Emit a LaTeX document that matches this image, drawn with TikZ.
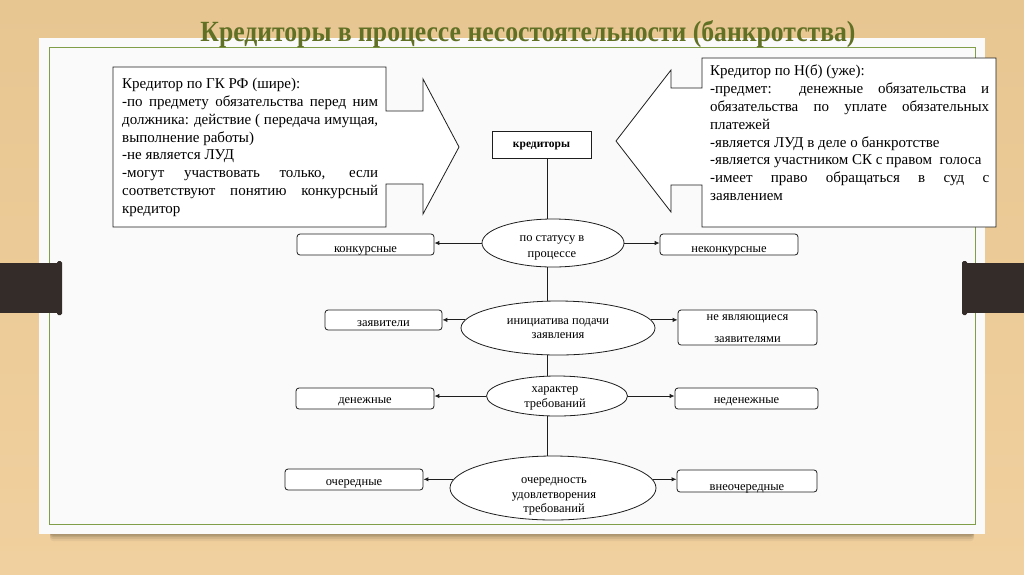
\documentclass[tikz,border=0pt]{standalone}
\usepackage{fontspec}
\setmainfont{Liberation Serif}
\usetikzlibrary{arrows.meta,calc,shapes.geometric}
\definecolor{woodtop}{RGB}{232,198,146}
\definecolor{woodbot}{RGB}{240,208,158}
\definecolor{panelw}{RGB}{250,250,250}
\definecolor{frameg}{RGB}{128,158,72}
\definecolor{titleg}{RGB}{96,112,36}
\definecolor{barc}{RGB}{52,44,40}
\definecolor{linec}{RGB}{30,30,30}
\newcommand{\bodyfnt}{\fontsize{15}{17.8}\selectfont}
\newcommand{\smallfnt}{\fontsize{12.5}{15.5}\selectfont}
\tikzset{
  outl/.style={draw=linec, line width=0.8pt},
  catbox/.style={outl, fill=white, rounded corners=3pt, inner sep=1pt, align=center, font=\smallfnt, text height=12pt, text depth=0pt},
  catell/.style={outl, fill=white, ellipse, inner sep=0pt},
  elbl/.style={anchor=base, inner sep=0pt, font=\smallfnt},
  arr/.style={draw=linec, line width=0.9pt, -{Latex[length=5pt,width=4.5pt]}},
  spine/.style={draw=linec, line width=0.8pt},
}
\begin{document}
\begin{tikzpicture}[x=1pt,y=-1pt]
\useasboundingbox (0,0) rectangle (1024,574);
% background
\shade[top color=woodtop, bottom color=woodbot] (0,0) rectangle (1024,574);
% panel shadow
\foreach \d/\o in {7/0.05,5/0.07,3/0.09,1.5/0.1}{
  \fill[black, opacity=\o, rounded corners=3pt] (50,530) rectangle (974,534+\d);
}
% panel
\fill[panelw] (39,38) rectangle (985,534);
\draw[frameg, line width=1pt] (49,47) rectangle (975,524);
% side bars
\fill[barc] (0,263) rectangle (60,313);
\fill[barc, rounded corners=1.5pt] (57,261) rectangle (62,315);
\fill[barc] (964,263) rectangle (1024,313);
\fill[barc, rounded corners=1.5pt] (962,261) rectangle (967,315);
% title
\node[anchor=base, inner sep=0, text=titleg] (title) at (528,41)
  {\resizebox{655pt}{21pt}{\bfseries Кредиторы в процессе несостоятельности (банкротства)}};
% left callout
\draw[outl, fill=white] (113,67) -- (386,67) -- (386,111) -- (423,111) -- (423,79)
  -- (459,147) -- (423,214) -- (423,184) -- (386,184) -- (386,227) -- (113,227) -- cycle;
\node[anchor=north west, inner sep=0, align=left, font=\bodyfnt] (ltxt) at (122,78)
  {Кредитор по ГК РФ (шире):\\
   \makebox[256pt][s]{-по предмету обязательства перед ним}\\
   \makebox[256pt][s]{должника: действие ( передача имущая,}\\
   выполнение работы)\\
   -не является ЛУД\\
   \makebox[256pt][s]{-могут участвовать только, если}\\
   \makebox[256pt][s]{соответствуют понятию конкурсный}\\
   кредитор};
% right callout
\draw[outl, fill=white] (702,58) -- (996,58) -- (996,227) -- (702,227) -- (702,185)
  -- (671,185) -- (671,212) -- (616,141) -- (671,70) -- (671,88) -- (702,88) -- cycle;
\node[anchor=north west, inner sep=0, align=left, font=\bodyfnt] (rtxt) at (710,65)
  {Кредитор по Н(б) (уже):\\
   \makebox[279pt][s]{-предмет: денежные обязательства и}\\
   \makebox[279pt][s]{обязательства по уплате обязательных}\\
   платежей\\
   -является ЛУД в деле о банкротстве\\
   -является участником СК с правом\ \ голоса\\
   \makebox[279pt][s]{-имеет право обращаться в суд с}\\
   заявлением};
% central box
\node[outl, fill=white, minimum width=99pt, minimum height=27pt, inner sep=0,
  font=\fontsize{11.5}{14}\selectfont\bfseries, text depth=0pt] (kred) at (541.5,145) {кредиторы};
\coordinate (sp) at (547,0);
% ellipses
\node[catell, minimum width=142pt, minimum height=48pt] (e1) at (553,243) {};
\node[catell, minimum width=194pt, minimum height=54pt] (e2) at (558,328) {};
\node[catell, minimum width=141pt, minimum height=40pt] (e3) at (557,396) {};
\node[catell, minimum width=206pt, minimum height=64pt] (e4) at (553,488) {};
% ellipse labels
\node[elbl] (e1a) at (552,241.5) {по статусу в};
\node[elbl] (e1b) at (552,257.5) {процессе};
\node[elbl] (e2a) at (558,324) {инициатива подачи};
\node[elbl] (e2b) at (558,338.5) {заявления};
\node[elbl] (e3a) at (555,392) {характер};
\node[elbl] (e3b) at (555,407) {требований};
\node[elbl] (e4a) at (554,483) {очередность};
\node[elbl] (e4b) at (554,498) {удовлетворения};
\node[elbl] (e4c) at (554,512.5) {требований};
% spine
\draw[spine] (kred.south -| sp) -- (e1.north -| sp);
\draw[spine] (e1.south -| sp) -- (e2.north -| sp);
\draw[spine] (e2.south -| sp) -- (e3.north -| sp);
\draw[spine] (e3.south -| sp) -- (e4.north -| sp);
% category boxes
\node[catbox, minimum width=137pt, minimum height=21pt, text height=15pt] (b1l) at (365.5,244.5) {конкурсные};
\node[catbox, minimum width=138pt, minimum height=21pt, text height=15pt] (b1r) at (729,244.5) {неконкурсные};
\node[catbox, minimum width=117pt, minimum height=20pt] (b2l) at (383.5,320) {заявители};
\node[catbox, minimum width=139pt, minimum height=35pt, text height=29pt] (b2r) at (747.5,327.5) {не являющиеся\\[6pt]заявителями};
\node[catbox, minimum width=138pt, minimum height=21pt, text height=10pt] (b3l) at (365,398.5) {денежные};
\node[catbox, minimum width=143pt, minimum height=21pt, text height=10pt] (b3r) at (746.5,398.5) {неденежные};
\node[catbox, minimum width=138pt, minimum height=21pt] (b4l) at (354,479.5) {очередные};
\node[catbox, minimum width=140pt, minimum height=22pt, text height=18pt] (b4r) at (747,481) {внеочередные};
% arrows
\draw[arr] (e1.west) -- (e1.west -| b1l.east);
\draw[arr] (e1.east) -- (e1.east -| b1r.west);
\draw[arr] (e2.175) -- (e2.175 -| b2l.east);
\draw[arr] (e2.5) -- (e2.5 -| b2r.west);
\draw[arr] (e3.west) -- (e3.west -| b3l.east);
\draw[arr] (e3.east) -- (e3.east -| b3r.west);
\draw[arr] (e4.175) -- (e4.175 -| b4l.east);
\draw[arr] (e4.5) -- (e4.5 -| b4r.west);
\end{tikzpicture}
\end{document}
